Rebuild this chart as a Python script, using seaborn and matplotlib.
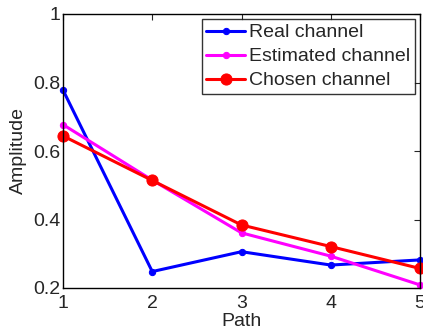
import matplotlib
matplotlib.use("Agg")
import matplotlib.pyplot as plt
import seaborn as sns
import pandas as pd

paths = [1, 2, 3, 4, 5]
real = [0.778, 0.248, 0.306, 0.267, 0.282]
estimated = [0.677, 0.515, 0.361, 0.293, 0.209]
chosen = [0.644, 0.514, 0.384, 0.321, 0.257]
labels = ["Real channel", "Estimated channel", "Chosen channel"]

sns.set_style("white")
plt.rcParams['font.family'] = ['Liberation Sans', 'DejaVu Sans']

fig = plt.figure(figsize=(4.23, 3.33), dpi=100)
ax = fig.add_axes([63/423, 45/333, 357/423, 274/333])

df = pd.DataFrame({"Path": paths * 3,
                   "Amplitude": real + estimated + chosen,
                   "series": [labels[0]]*5 + [labels[1]]*5 + [labels[2]]*5})
colors = {labels[0]: "#0000ff", labels[1]: "#ff00ff", labels[2]: "#ff0000"}
for lab, ms in zip(labels, [4.5, 4.5, 8]):
    sub = df[df.series == lab]
    sns.lineplot(data=sub, x="Path", y="Amplitude", ax=ax, color=colors[lab],
                 marker="o", markersize=ms, markeredgecolor=colors[lab],
                 linewidth=2.2, label=lab, clip_on=False)

ax.set_xlim(1, 5)
ax.set_ylim(0.2, 1.0)
ax.set_xticks([1, 2, 3, 4, 5])
ax.set_yticks([0.2, 0.4, 0.6, 0.8, 1.0])
ax.set_yticklabels(["0.2", "0.4", "0.6", "0.8", "1"])
ax.tick_params(direction="in", top=True, right=True, labelsize=14, length=4, width=0.8)
ax.tick_params(axis="x", pad=5)
ax.tick_params(axis="y", pad=2)
for s in ax.spines.values():
    s.set_linewidth(1.0)
    s.set_color("black")
ax.set_xlabel("Path", fontsize=14, labelpad=1)
ax.set_ylabel("Amplitude", fontsize=14, labelpad=4)
leg = ax.legend(loc="upper right", fontsize=14, frameon=True, fancybox=False,
                edgecolor="black", borderaxespad=0.25, handlelength=2.0,
                handletextpad=0.2, borderpad=0.25, labelspacing=0.33)
leg.get_frame().set_linewidth(1.0)
fig.savefig("out.png", dpi=100)
